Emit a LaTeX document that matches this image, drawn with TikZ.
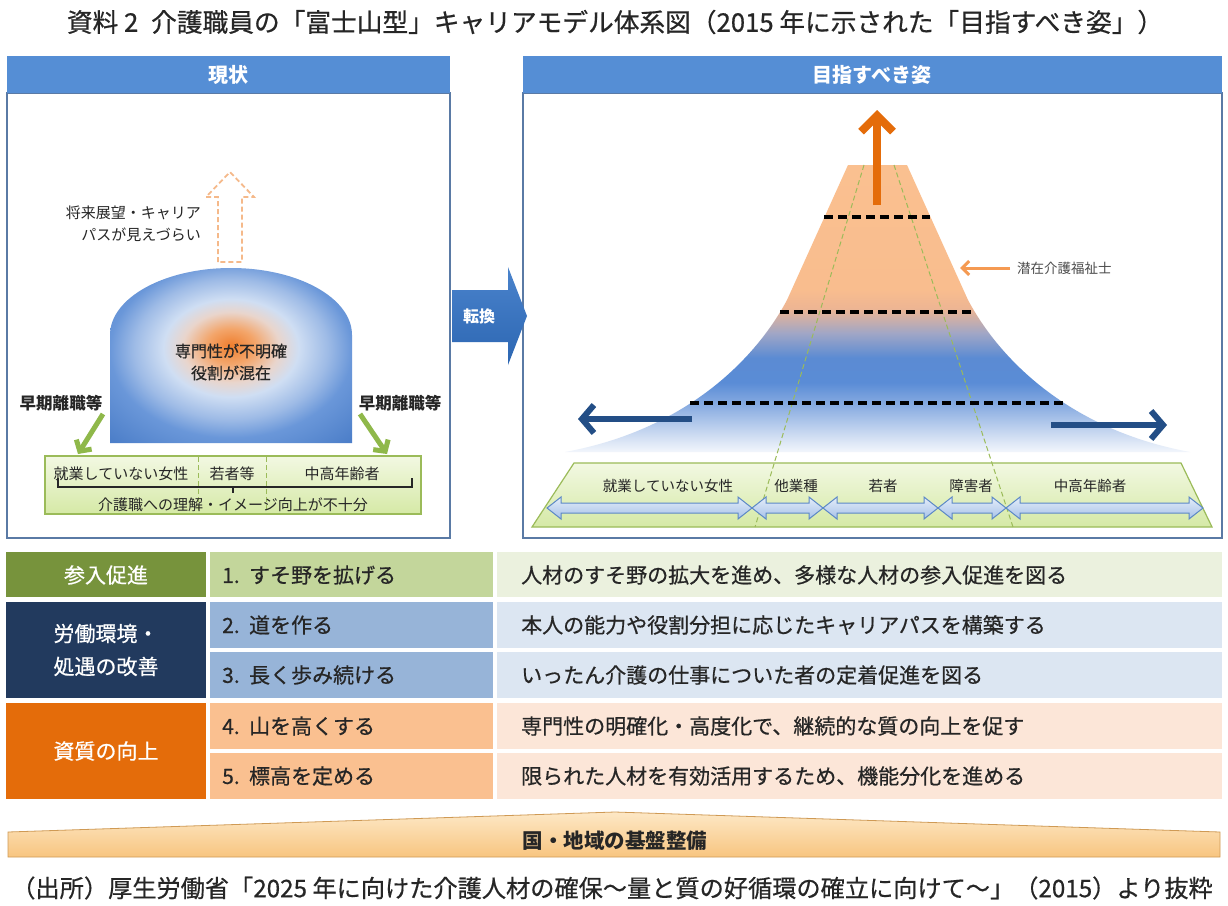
\documentclass[tikz,border=0pt]{standalone}
\usepackage{fontspec}
\setmainfont{Noto Sans CJK JP}
\newfontfamily\jpm[FakeBold=0.6]{Noto Sans CJK JP}
\usetikzlibrary{arrows.meta}
\definecolor{txtc}{HTML}{262626}
\definecolor{hdrblue}{HTML}{558ED5}
\definecolor{panelb}{HTML}{5A7AA5}
\definecolor{domeA}{HTML}{EF7F2F}
\definecolor{domeB}{HTML}{F3A56A}
\definecolor{domeC}{HTML}{E9D5CC}
\definecolor{domeD}{HTML}{CFDEF3}
\definecolor{domeE}{HTML}{9EBBE6}
\definecolor{domeF}{HTML}{6A97D9}
\definecolor{domeG}{HTML}{4D7FC9}
\definecolor{mtA}{HTML}{F2F6FC}
\definecolor{mtB}{HTML}{D2DFF3}
\definecolor{mtC}{HTML}{8DAFE2}
\definecolor{mtD}{HTML}{5A8CD6}
\definecolor{mtE}{HTML}{5B8BD3}
\definecolor{mtF}{HTML}{A0A6C6}
\definecolor{mtG}{HTML}{EDB593}
\definecolor{mtH}{HTML}{F9BD8E}
\definecolor{mtI}{HTML}{FAC090}
\definecolor{gbA}{HTML}{F2F8E2}
\definecolor{gbB}{HTML}{D5E9A6}
\definecolor{gbord}{HTML}{9BBB59}
\definecolor{dblA}{HTML}{E4EDF9}
\definecolor{dblB}{HTML}{A6C1E8}
\definecolor{dblbord}{HTML}{5C88C6}
\definecolor{arrOr}{HTML}{E46C0A}
\definecolor{arrNavy}{HTML}{234E86}
\definecolor{arrLOr}{HTML}{F59A52}
\definecolor{greenArr}{HTML}{8FB84A}
\definecolor{dashOr}{HTML}{F5B98A}
\definecolor{cOneA}{HTML}{77933C}
\definecolor{cOneB}{HTML}{223A5E}
\definecolor{cOneC}{HTML}{E46C0A}
\definecolor{cTwoA}{HTML}{C3D69B}
\definecolor{cTwoB}{HTML}{97B4D8}
\definecolor{cTwoC}{HTML}{FAC090}
\definecolor{cThrA}{HTML}{EBF1DE}
\definecolor{cThrB}{HTML}{DCE6F2}
\definecolor{cThrC}{HTML}{FCE6D8}
\definecolor{banA}{HTML}{FDE8C6}
\definecolor{banB}{HTML}{F8C580}
\definecolor{banbord}{HTML}{CF9A55}
\definecolor{trA}{HTML}{4A83CC}
\definecolor{trB}{HTML}{2C66B2}
\pgfdeclareradialshading{domeshade}{\pgfpoint{0bp}{3bp}}{color(0bp)=(domeA); color(5bp)=(domeB); color(10bp)=(domeC); color(14bp)=(domeD); color(20bp)=(domeE); color(25bp)=(domeF); color(35bp)=(domeG); color(50bp)=(domeG)}
\pgfdeclareverticalshading{mtnshade}{100bp}{color(0bp)=(mtA); color(25bp)=(mtA); color(27.6bp)=(mtB); color(32.8bp)=(mtC); color(37.1bp)=(mtD); color(41.4bp)=(mtE); color(45.7bp)=(mtF); color(50bp)=(mtG); color(53.4bp)=(mtH); color(75bp)=(mtI); color(100bp)=(mtI)}
\newcommand\dbla[2]{\shade[dbl] (#1,508) -- ({#1+14},497) -- ({#1+14},503) -- ({#2-14},503) -- ({#2-14},497) -- (#2,508) -- ({#2-14},519) -- ({#2-14},513) -- ({#1+14},513) -- ({#1+14},519) -- cycle;}
\begin{document}
\begin{tikzpicture}[x=1pt,y=-1pt,
  txt/.style={inner sep=0pt,text=txtc},
  hdrtxt/.style={inner sep=0pt,text=white,font=\fontsize{20}{24}\selectfont\bfseries},
  panel/.style={draw=panelb,line width=1.8pt},
  lbl/.style={txt,font=\fontsize{15}{22}\selectfont},
  lblr/.style={txt,font=\fontsize{14.5}{18}\selectfont},
  tabone/.style={inner sep=0pt,text=white,font=\fontsize{21}{33}\selectfont\jpm,align=center},
  tabtwo/.style={txt,anchor=west,font=\fontsize{21}{24}\selectfont\jpm},
  tabthr/.style={txt,anchor=west,font=\fontsize{21}{24}\selectfont\jpm},
  gbox/.style={top color=gbA,bottom color=gbB,draw=gbord,line width=1.2pt},
  gdash/.style={draw=gbord,line width=1pt,dash pattern=on 5pt off 3pt},
  bdash/.style={draw=black,line width=3.2pt,dash pattern=on 9pt off 5pt},
  dbl/.style={top color=dblA,bottom color=dblB,draw=dblbord,line width=1pt},
  garrow/.style={draw=greenArr,line width=5pt,-{Straight Barb[length=8pt,width=18pt]}},
  navyarrow/.style={draw=arrNavy,line width=6pt,-{Straight Barb[length=12pt,width=28pt]}},
]
\useasboundingbox (0,0) rectangle (1228,905);
\fill[white] (0,0) rectangle (1228,905);

% title
\node[txt,font=\fontsize{25.7}{30}\selectfont\jpm] (title) at (615,22) {資料 2\enspace 介護職員の「富士山型」キャリアモデル体系図（2015 年に示された「目指すべき姿」）};

% left panel
\draw[panel] (7,93) rectangle (450,538);
\fill[hdrblue] (7,56) rectangle (450,93);
\node[hdrtxt] (hL) at (228,75) {現状};

% dome
\shade[shading=domeshade] (110,443) -- (110,335) .. controls (110,298) and (164,268) .. (231,268) .. controls (298,268) and (352,298) .. (352,335) -- (352,443) -- cycle;
\node[txt,font=\fontsize{16}{22}\selectfont\jpm,align=center] (dome) at (231,362) {専門性が不明確\\役割が混在};

% dashed up arrow
\draw[draw=dashOr,fill=white,line width=1.8pt,dash pattern=on 5pt off 3pt,line join=miter] (218,262) -- (218,197) -- (206,197) -- (230,172) -- (254,197) -- (242,197) -- (242,262) -- cycle;
\node[lbl,anchor=east,align=right] (future) at (201,224) {将来展望・キャリア\\パスが見えづらい};

% early leaving
\node[txt,font=\fontsize{16.5}{20}\selectfont\bfseries] (leaveL) at (61,403) {早期離職等};
\node[txt,font=\fontsize{16.5}{20}\selectfont\bfseries] (leaveR) at (400,403) {早期離職等};
\coordinate (gLs) at (103,414); \coordinate (gLe) at (78,454);
\coordinate (gRs) at (360,414); \coordinate (gRe) at (387,454);
\draw[garrow] (gLs) -- (gLe);
\draw[garrow] (gRs) -- (gRe);

% left green box
\shade[gbox] (45,456) rectangle (421,514);
\draw[gdash] (198,457) -- (198,513);
\draw[gdash] (266,457) -- (266,513);
\node[lbl] (lw) at (121,474) {就業していない女性};
\node[lbl] (ly) at (232,474) {若者等};
\node[lbl] (lm) at (342,474) {中高年齢者};
\draw[txtc,line width=1.2pt] (58,478) -- (58,487) -- (412,487) -- (412,478);
\draw[txtc,line width=1.2pt] (233,487) -- (233,493);
\node[lbl] (lund) at (233,505) {介護職への理解・イメージ向上が不十分};

% right panel
\draw[panel] (523,93) rectangle (1222,538);
\fill[hdrblue] (523,56) rectangle (1222,93);
\node[hdrtxt] (hR) at (872,75) {目指すべき姿};

% mountain
\shade[shading=mtnshade] (848,165) -- (907,165) -- (968,300) .. controls (1000,360) and (1070,430) .. (1190,452) -- (565,452) .. controls (685,430) and (755,360) .. (787,300) -- cycle;

% right green box
\shade[gbox] (574,463) -- (1181,463) -- (1212,527) -- (532,527) -- cycle;
\draw[gdash] (864,165) -- (755,527);
\draw[gdash] (894,165) -- (1013,527);

% level lines
\draw[bdash] (824,217) -- (930,217);
\draw[bdash] (780,312) -- (973,312);
\draw[bdash] (690,403) -- (1065,403);

% arrows on mountain
\coordinate (upS) at (877,205); \coordinate (upE) at (877,110);
\draw[draw=arrOr,line width=8pt,-{Straight Barb[length=16pt,width=32pt]}] (upS) -- (upE);
\coordinate (nLs) at (692,419); \coordinate (nLe) at (578,419);
\coordinate (nRs) at (1051,425); \coordinate (nRe) at (1167,425);
\draw[navyarrow] (nLs) -- (nLe);
\draw[navyarrow] (nRs) -- (nRe);
\coordinate (pS) at (1010,268); \coordinate (pE) at (960,268);
\draw[draw=arrLOr,line width=3pt,-{Straight Barb[length=7pt,width=14pt]}] (pS) -- (pE);
\node[txt,anchor=west,font=\fontsize{13.5}{16}\selectfont,text=black!70] (pot) at (1017,268) {潜在介護福祉士};

% labels in right box
\node[lblr] (rw) at (668,486) {就業していない女性};
\node[lblr] (ro) at (796,486) {他業種};
\node[lblr] (ry) at (883,486) {若者};
\node[lblr] (rd) at (971,486) {障害者};
\node[lblr] (rm) at (1090,486) {中高年齢者};
\dbla{547}{752}
\dbla{752}{823}
\dbla{823}{938}
\dbla{938}{1006}
\dbla{1006}{1203}

% transition arrow
\shade[top color=trA,bottom color=trB] (452,290) -- (508,290) -- (508,267) -- (527,316) -- (508,365) -- (508,342) -- (452,342) -- cycle;
\node[inner sep=0pt,text=white,font=\fontsize{16}{20}\selectfont\bfseries] (conv) at (479,316) {転換};

% table
\fill[cOneA] (6,552) rectangle (206,597);
\fill[cOneB] (6,602) rectangle (206,698);
\fill[cOneC] (6,703) rectangle (206,799);
\fill[cTwoA] (210,552) rectangle (493,597);
\fill[cTwoB] (210,602) rectangle (493,648);
\fill[cTwoB] (210,652) rectangle (493,698);
\fill[cTwoC] (210,703) rectangle (493,749);
\fill[cTwoC] (210,753) rectangle (493,799);
\fill[cThrA] (497,552) rectangle (1222,597);
\fill[cThrB] (497,602) rectangle (1222,648);
\fill[cThrB] (497,652) rectangle (1222,698);
\fill[cThrC] (497,703) rectangle (1222,749);
\fill[cThrC] (497,753) rectangle (1222,799);
\node[tabone] (t1) at (106,575) {参入促進};
\node[tabone] (t2) at (106,650) {労働環境・\\処遇の改善};
\node[tabone] (t3) at (106,751) {資質の向上};
\node[tabtwo] (s1) at (222,575) {1.\ \ すそ野を拡げる};
\node[tabtwo] (s2) at (222,625) {2.\ \ 道を作る};
\node[tabtwo] (s3) at (222,675) {3.\ \ 長く歩み続ける};
\node[tabtwo] (s4) at (222,726) {4.\ \ 山を高くする};
\node[tabtwo] (s5) at (222,776) {5.\ \ 標高を定める};
\node[tabthr] (d1) at (521,575) {人材のすそ野の拡大を進め、多様な人材の参入促進を図る};
\node[tabthr] (d2) at (521,625) {本人の能力や役割分担に応じたキャリアパスを構築する};
\node[tabthr] (d3) at (521,675) {いったん介護の仕事についた者の定着促進を図る};
\node[tabthr] (d4) at (521,726) {専門性の明確化・高度化で、継続的な質の向上を促す};
\node[tabthr] (d5) at (521,776) {限られた人材を有効活用するため、機能分化を進める};

% banner
\shade[top color=banA,bottom color=banB,draw=banbord,line width=0.8pt] (8,832) -- (615,812) -- (1220,832) -- (1220,857) -- (8,857) -- cycle;
\node[txt,font=\fontsize{20.5}{24}\selectfont\bfseries] (base) at (615,841) {国・地域の基盤整備};

% source
\node[txt,font=\fontsize{24.2}{28}\selectfont\jpm] (src) at (612,888) {（出所）厚生労働省「2025 年に向けた介護人材の確保～量と質の好循環の確立に向けて～」（2015）より抜粋};
\end{tikzpicture}
\end{document}
